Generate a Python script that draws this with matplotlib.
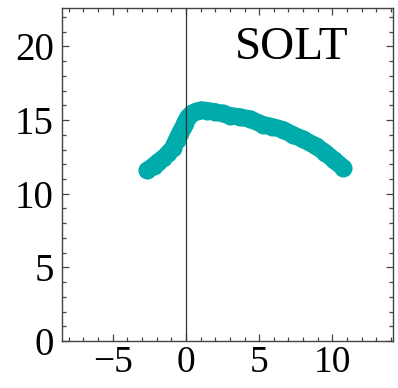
import matplotlib
matplotlib.use("Agg")
import matplotlib.pyplot as plt
from matplotlib.ticker import MultipleLocator

plt.rcParams['font.family'] = ['Liberation Serif', 'DejaVu Serif']
plt.rcParams['axes.unicode_minus'] = True

# curve
xs = [-2.63, -2.2, -1.9, -1.54, -1.2, -0.9, -0.63, -0.4, -0.2, -0.07, 0.15,
      0.4, 0.73, 1.05, 1.41, 2.0, 2.5, 2.99, 3.7, 4.35, 5.26, 5.9, 6.62,
      7.3, 8.0, 8.89, 9.5, 10.1, 10.75]
ys = [11.58, 11.9, 12.15, 12.42, 12.75, 13.1, 13.67, 14.15, 14.5, 14.81,
      15.2, 15.45, 15.6, 15.68, 15.65, 15.55, 15.45, 15.31, 15.2, 15.08,
      14.69, 14.55, 14.35, 14.0, 13.7, 13.22, 12.8, 12.3, 11.76]

xlim = (-8.45, 14.15)
ylim = (0, 22.6)
xticks = [-5, 0, 5, 10]
yticks = [0, 5, 10, 15, 20]
label = "SOLT"

fig = plt.figure(figsize=(3.98, 3.88), dpi=100)
ax = fig.add_axes([0.156, 0.121, 0.832, 0.858])

ax.axvline(0, color='#333333', lw=0.9, zorder=3)
ax.plot(xs, ys, '-', color='#00abab', lw=12.5, solid_capstyle='round',
        solid_joinstyle='round', zorder=2)
ax.plot(xs, ys, 'o', color='#00abab', ms=13, mew=0, zorder=2)

ax.text(7.2, 19.9, label, fontsize=34, ha='center', va='center')

ax.set_xlim(*xlim)
ax.set_ylim(*ylim)
ax.set_xticks(xticks)
ax.set_yticks(yticks)
ax.xaxis.set_minor_locator(MultipleLocator(1))
ax.yaxis.set_minor_locator(MultipleLocator(1))
ax.tick_params(which='both', direction='in', top=True, right=True,
               color='#444444', width=0.9)
ax.tick_params(which='major', length=5, labelsize=28)
ax.tick_params(which='minor', length=3)
ax.tick_params(axis='y', pad=6)
ax.tick_params(axis='x', pad=3, labelsize=27)
for s in ax.spines.values():
    s.set_color('#444444')
    s.set_linewidth(1.0)

fig.savefig('out.png', dpi=100)
